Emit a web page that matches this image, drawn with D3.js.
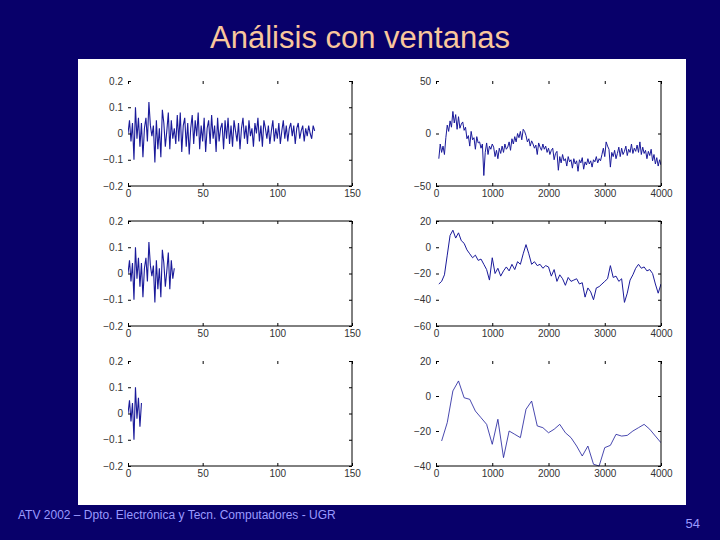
<!DOCTYPE html>
<html>
<head>
<meta charset="utf-8">
<script src="https://cdn.jsdelivr.net/npm/d3@7"></script>
<style>
  html, body { margin: 0; padding: 0; background: #08006a; }
  svg { display: block; }
</style>
</head>
<body>
<svg id="chart" width="720" height="540"></svg>
<script>
// ---------------- DATA ----------------
const titleText = "Análisis con ventanas";
const footerText = "ATV 2002 – Dpto. Electrónica y Tecn. Computadores - UGR";
const pageNumber = "54";

// time-domain speech segment (sample index 0..125)
const signal = [
  0.00, 0.05, -0.03, 0.04, -0.10, 0.10, -0.02, 0.06, -0.05, 0.04,
  -0.09, 0.02, 0.06, -0.03, 0.12, 0.03, -0.01, 0.03, -0.11, 0.05,
  -0.06, 0.02, -0.09, 0.09, 0.04, -0.05, 0.01, 0.08, -0.06, 0.05,
  -0.02, 0.02, -0.04, 0.07, -0.03, 0.08, -0.07, 0.03, 0.06, -0.05,
  0.04, -0.08, 0.02, 0.07, -0.04, 0.05, -0.01, 0.08, -0.06, 0.03,
  -0.03, 0.06, -0.07, 0.02, 0.05, -0.04, 0.07, -0.02, 0.03, -0.07,
  0.06, -0.03, 0.02, 0.04, -0.06, 0.05, -0.02, 0.06, -0.04, 0.03,
  -0.05, 0.05, 0.01, -0.03, 0.04, -0.06, 0.02, 0.06, -0.02, 0.03,
  -0.04, 0.05, -0.01, 0.02, -0.05, 0.04, 0.00, 0.06, -0.03, 0.03,
  -0.05, 0.05, 0.02, -0.02, 0.03, -0.04, 0.01, 0.05, -0.03, 0.02,
  -0.02, 0.04, -0.04, 0.01, 0.05, -0.02, 0.03, -0.03, 0.02, 0.04,
  -0.01, 0.03, -0.04, 0.02, 0.04, -0.02, 0.01, 0.03, -0.03, 0.02,
  -0.01, 0.03, 0.00, -0.02, 0.03, 0.01
];
// window lengths (samples) shown in the three rows
const windowLengths = [126, 32, 10];

// spectra in dB: long window (50..4000 Hz, step 25 Hz)
const specLong = [
  -24, -10, -18, -12, -20,
  -4, 8, 2, 12,   6, 21, 10, 18,   4, 16, 5, 9,   11, 3, 6, -5,
  -2, -12, 2, -6,   -4, -15, -3, -9,   -8, -14, -10, -40,   -18, -9, -20, -12,
  -15, -10, -13, -22,   -16, -24, -14, -19,   -12, -18, -10, -15,   -13, -8, -16, -5,
  -10, -3, -8, 0,   -4, 2, -6, 4,   2, -2, -8, -5,   -12, -7, -10, -14,
  -11, -20, -9, -13,   -16, -10, -15, -12,   -18, -14, -20, -16,   -14, -25, -19, -17,
  -35, -22, -28, -20,   -26, -24, -31, -22,   -27, -25, -33, -24,   -29, -26, -36, -25,
  -28, -23, -34, -27,   -30, -24, -29, -26,   -32, -25, -27, -22,   -28, -24, -26, -20,
  -14, -22, -8, -12,   -15, -32, -18, -22,   -16, -24, -19, -13,   -22, -14, -20, -17,
  -12, -21, -15, -18,   -10, -19, -14, -17,   -11, -18, -8, -20,   -13, -19, -16, -24,
  -17, -21, -15, -26,   -20, -29, -23, -31,
  -25, -30
];
// medium window (50..4000 Hz, step 50 Hz)
const specMid = [
  -28, -26, -21, -6, 9, 13, 7, 11, 5, 3,
  -2, -5, -8, -6, -10, -9, -13, -17, -25, -8,
  -20, -16, -22, -18, -15, -18, -13, -17, -11, -13,
  -5, 2, -5, -13, -11, -14, -13, -16, -14, -15,
  -22, -17, -26, -21, -24, -29, -23, -26, -25, -24,
  -28, -27, -38, -31, -34, -40, -31, -30, -28, -26,
  -24, -14, -23, -22, -26, -24, -42, -35, -25, -21,
  -16, -13, -16, -15, -18, -17, -20, -28, -35, -28
];
// short window (100..4000 Hz, step 100 Hz)
const specShort = [
  -25.7, -15.2, 2.9, 8.6, -1.0, -1.9, -8.6, -12.4, -16.2, -27.6,
  -13.3, -35.2, -20.0, -21.9, -23.8, -7.6, -2.9, -17.1, -18.1, -21.0,
  -19.0, -16.2, -21.0, -23.8, -28.6, -34.3, -28.6, -39.0, -40.0, -29.5,
  -28.2, -21.9, -22.9, -22.5, -20.0, -18.1, -16.2, -19.0, -22.9, -26.7
];
const specStart = [50, 50, 100];   // first frequency (Hz)
const specStep = [25, 50, 100];    // frequency step (Hz)

const leftXTicks = [0, 50, 100, 150];
const rightXTicks = [0, 1000, 2000, 3000, 4000];
const leftYTicks = [-0.2, -0.1, 0, 0.1, 0.2];
const rightYTicks = [[-50, 0, 50], [-60, -40, -20, 0, 20], [-40, -20, 0, 20]];
const rightYDomains = [[-50, 50], [-60, 20], [-40, 20]];

// ---------------- LAYOUT ----------------
const svg = d3.select("#chart");
const lineColor = "#1a1a9a";
const cols = [{ x0: 128, x1: 352 }, { x0: 436, x1: 661 }];
const rows = [{ y0: 81, y1: 186 }, { y0: 221, y1: 326 }, { y0: 361, y1: 466 }];

svg.append("rect").attr("x", 0).attr("y", 0).attr("width", 720).attr("height", 540).attr("fill", "#08006a");
svg.append("rect").attr("x", 78).attr("y", 59).attr("width", 608).attr("height", 446).attr("fill", "#ffffff");

svg.append("text").attr("x", 360).attr("y", 48).attr("text-anchor", "middle")
  .attr("font-family", "Liberation Sans, Arial, sans-serif").attr("font-size", 31)
  .attr("fill", "#f9c79c").text(titleText);
svg.append("text").attr("x", 18).attr("y", 519)
  .attr("font-family", "Liberation Sans, Arial, sans-serif").attr("font-size", 12)
  .attr("fill", "#9a9aff").text(footerText);
svg.append("text").attr("x", 700).attr("y", 528).attr("text-anchor", "end")
  .attr("font-family", "Liberation Sans, Arial, sans-serif").attr("font-size", 13)
  .attr("fill", "#9a9aff").text(pageNumber);

function fmt(v) { return d3.format("")(v); }

function drawPanel(id, col, row, xDomain, yDomain, xTicks, yTicks, pts, showTop, lw) {
  const c = cols[col], r = rows[row];
  const x = d3.scaleLinear().domain(xDomain).range([c.x0, c.x1]);
  const y = d3.scaleLinear().domain(yDomain).range([r.y1, r.y0]);
  const g = svg.append("g");

  svg.append("clipPath").attr("id", "clip" + id).append("rect")
    .attr("x", c.x0).attr("y", r.y0 - 1).attr("width", c.x1 - c.x0).attr("height", r.y1 - r.y0 + 2);

  g.append("path").datum(pts)
    .attr("clip-path", "url(#clip" + id + ")")
    .attr("fill", "none").attr("stroke", lineColor).attr("stroke-width", lw)
    .attr("d", d3.line().x(d => x(d[0])).y(d => y(d[1])));

  const font = "Liberation Sans, Arial, sans-serif";
  const ax = (gen, tx, ty) => {
    const a = g.append("g").attr("transform", `translate(${tx},${ty})`).call(gen);
    a.select(".domain").remove();
    a.selectAll("line").attr("stroke", "#000");
    a.selectAll("text").attr("font-family", font).attr("font-size", 10).attr("fill", "#333");
    return a;
  };
  ax(d3.axisBottom(x).tickValues(xTicks).tickFormat(fmt).tickSizeInner(-3).tickSizeOuter(0).tickPadding(4), 0, r.y1);
  ax(d3.axisLeft(y).tickValues(yTicks).tickFormat(fmt).tickSizeInner(-3).tickSizeOuter(0).tickPadding(5), c.x0, 0);
  ax(d3.axisTop(x).tickValues(xTicks).tickFormat("").tickSizeInner(-3).tickSizeOuter(0), 0, r.y0);
  ax(d3.axisRight(y).tickValues(yTicks).tickFormat("").tickSizeInner(-3).tickSizeOuter(0), c.x1, 0);

  g.append("line").attr("x1", c.x0).attr("x2", c.x1).attr("y1", r.y1).attr("y2", r.y1).attr("stroke", "#000");
  g.append("line").attr("x1", c.x1).attr("x2", c.x1).attr("y1", r.y0).attr("y2", r.y1).attr("stroke", "#000");
  if (showTop) {
    g.append("line").attr("x1", c.x0).attr("x2", c.x1).attr("y1", r.y0).attr("y2", r.y0).attr("stroke", "#000");
  }
}

const specs = [specLong, specMid, specShort];
for (let i = 0; i < 3; i++) {
  const tPts = signal.slice(0, windowLengths[i]).map((v, k) => [k, v]);
  drawPanel("L" + i, 0, i, [0, 150], [-0.2, 0.2], leftXTicks, leftYTicks, tPts, i === 1, 1.1);
  const fPts = specs[i].map((v, k) => [specStart[i] + k * specStep[i], v]);
  drawPanel("R" + i, 1, i, [0, 4000], rightYDomains[i], rightXTicks, rightYTicks[i], fPts, i === 1, i === 2 ? 0.8 : 1);
}
</script>
</body>
</html>
